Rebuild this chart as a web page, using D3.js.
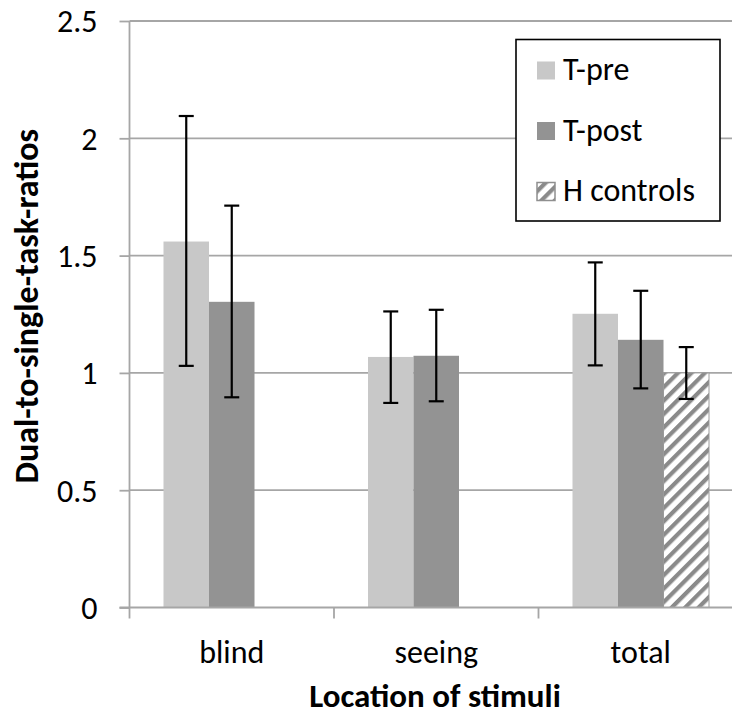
<!DOCTYPE html>
<html>
<head>
<meta charset="utf-8">
<script src="https://cdn.jsdelivr.net/npm/d3@7"></script>
<style>
  html, body { margin: 0; padding: 0; background: #fff; }
  svg { display: block; }
  text { font-family: Carlito, Lato, "Open Sans", sans-serif; fill: #000; }
</style>
</head>
<body>
<svg id="chart" width="732" height="715"></svg>
<script>
// ---- data ----
const categories = ["blind", "seeing", "total"];
const seriesNames = ["T-pre", "T-post", "H controls"];
const tPre      = [1.56, 1.068, 1.252];
const tPost     = [1.303, 1.073, 1.141];
const hControls = [null, null, 1.0];
const tPreHigh  = [2.095, 1.262, 1.471];
const tPreLow   = [1.03, 0.872, 1.032];
const tPostHigh = [1.713, 1.269, 1.35];
const tPostLow  = [0.896, 0.879, 0.934];
const hHigh     = [null, null, 1.11];
const hLow      = [null, null, 0.889];
const yTicks    = [0, 0.5, 1, 1.5, 2, 2.5];
const yTickLabels = ["0", "0.5", "1", "1.5", "2", "2.5"];
const xTitle = "Location of stimuli";
const yTitle = "Dual-to-single-task-ratios";

const seriesValues = [tPre, tPost, hControls];
const seriesHigh = [tPreHigh, tPostHigh, hHigh];
const seriesLow = [tPreLow, tPostLow, hLow];
const colors = ["#c8c8c8", "#939393", "url(#hatch)"];

const svg = d3.select("#chart");
const W = 732, H = 715;
const plot = { left: 129.5, right: 743, top: 21, bottom: 607.5 };

const defs = svg.append("defs");
const pat = defs.append("pattern")
  .attr("id", "hatch").attr("patternUnits", "userSpaceOnUse")
  .attr("width", 9.5).attr("height", 9.5)
  .attr("patternTransform", "rotate(45)");
pat.append("rect").attr("width", 9.5).attr("height", 9.5).attr("fill", "#fff");
pat.append("rect").attr("width", 4.2).attr("height", 9.5).attr("fill", "#8a8a8a");

const x = d3.scaleBand().domain(categories).range([plot.left, plot.right]).paddingInner(0).paddingOuter(0);
const xs = d3.scaleBand().domain(seriesNames).range([0, x.bandwidth()]).paddingInner(0).paddingOuter(0.747);
const y = d3.scaleLinear().domain([0, 2.5]).range([plot.bottom, plot.top]);

const gridColor = "#a6a6a6";
const labelSize = 32;

// gridlines
svg.append("g").selectAll("line").data(yTicks.filter(d => d > 0)).join("line")
  .attr("x1", plot.left).attr("x2", W)
  .attr("y1", d => y(d)).attr("y2", d => y(d))
  .attr("stroke", gridColor).attr("stroke-width", 1.8);

// y axis
const yAxis = d3.axisLeft(y).tickValues(yTicks).tickFormat((d, i) => yTickLabels[i]).tickSize(10).tickPadding(22);
const gy = svg.append("g").attr("transform", `translate(${plot.left},0)`).call(yAxis);
gy.select(".domain").attr("stroke", gridColor).attr("stroke-width", 1.8).attr("d", `M0,${plot.top}V${plot.bottom}`);
gy.selectAll(".tick line").attr("stroke", gridColor).attr("stroke-width", 1.8);
gy.selectAll(".tick text").attr("font-size", labelSize).attr("font-family", "Carlito, Lato, sans-serif").attr("fill", "#000").attr("dy", "0.34em");

// bars
seriesNames.forEach((s, si) => {
  const data = categories.map((c, ci) => ({ c, v: seriesValues[si][ci] })).filter(d => d.v != null);
  const g = svg.append("g");
  g.selectAll("rect").data(data).join("rect")
    .attr("x", d => x(d.c) + xs(s))
    .attr("width", xs.bandwidth())
    .attr("y", d => y(d.v))
    .attr("height", d => y(0) - y(d.v))
    .attr("fill", colors[si])
    .attr("stroke", si === 2 ? "#9a9a9a" : "none")
    .attr("stroke-width", si === 2 ? 1 : 0);
});

// x axis line and ticks
const gx = svg.append("g").attr("transform", `translate(0,${plot.bottom})`);
gx.append("line").attr("x1", plot.left - 10).attr("x2", W).attr("y1", 0).attr("y2", 0)
  .attr("stroke", gridColor).attr("stroke-width", 1.8);
gx.selectAll("line.t").data(categories).join("line").attr("class", "t")
  .attr("x1", d => x(d)).attr("x2", d => x(d)).attr("y1", 0).attr("y2", 11)
  .attr("stroke", gridColor).attr("stroke-width", 1.8);
gx.selectAll("text").data(categories).join("text")
  .attr("x", d => x(d) + x.bandwidth() / 2).attr("y", 55)
  .attr("text-anchor", "middle").attr("font-size", labelSize).text(d => d);

// error bars
seriesNames.forEach((s, si) => {
  const data = categories.map((c, ci) => ({ c, hi: seriesHigh[si][ci], lo: seriesLow[si][ci] })).filter(d => d.hi != null);
  const g = svg.append("g").attr("stroke", "#000").attr("stroke-width", 2.2);
  const cx = d => x(d.c) + xs(s) + xs.bandwidth() / 2;
  g.selectAll("line.v").data(data).join("line").attr("class", "v")
    .attr("x1", cx).attr("x2", cx).attr("y1", d => y(d.hi)).attr("y2", d => y(d.lo));
  g.selectAll("line.h").data(data).join("line").attr("class", "h")
    .attr("x1", d => cx(d) - 7.5).attr("x2", d => cx(d) + 7.5).attr("y1", d => y(d.hi)).attr("y2", d => y(d.hi));
  g.selectAll("line.l").data(data).join("line").attr("class", "l")
    .attr("x1", d => cx(d) - 7.5).attr("x2", d => cx(d) + 7.5).attr("y1", d => y(d.lo)).attr("y2", d => y(d.lo));
});

// axis titles
svg.append("text").attr("x", 435).attr("y", 707)
  .attr("text-anchor", "middle").attr("font-weight", "bold").attr("font-size", 33).text(xTitle);
svg.append("text").attr("transform", `translate(38,${(plot.top + plot.bottom) / 2 - 8}) rotate(-90)`)
  .attr("text-anchor", "middle").attr("font-weight", "bold").attr("font-size", 34).text(yTitle);

// legend
const lg = svg.append("g");
lg.append("rect").attr("x", 516).attr("y", 39.5).attr("width", 204).attr("height", 181.5)
  .attr("fill", "#fff").attr("stroke", "#000").attr("stroke-width", 1.6);
seriesNames.forEach((s, i) => {
  const yy = 70 + i * 60.5;
  lg.append("rect").attr("x", 537).attr("y", yy - 8.5).attr("width", 18).attr("height", 18)
    .attr("fill", colors[i]).attr("stroke", i === 2 ? "#8f8f8f" : "none").attr("stroke-width", i === 2 ? 1.5 : 0);
  lg.append("text").attr("x", 563).attr("y", yy + 10).attr("font-size", labelSize).text(s);
});
</script>
</body>
</html>
